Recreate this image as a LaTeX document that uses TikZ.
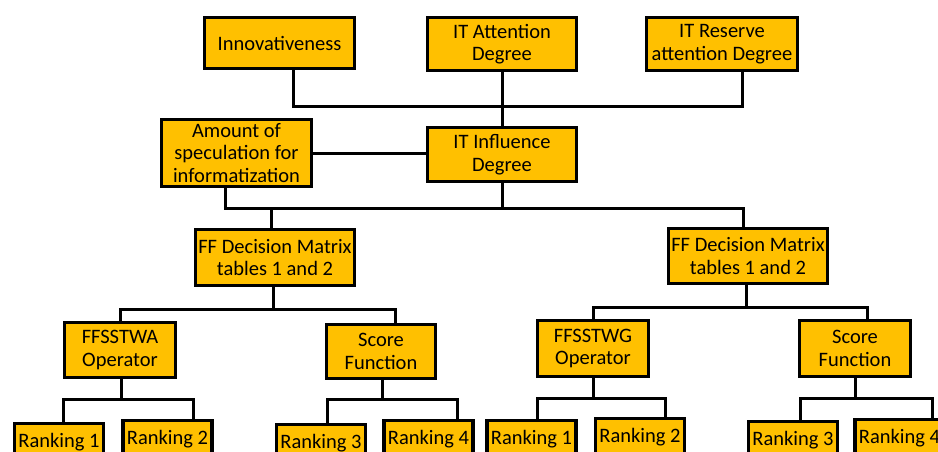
\documentclass[tikz,border=0pt]{standalone}
\usepackage{fontspec}
\setmainfont{Carlito}
\usetikzlibrary{calc}
\definecolor{boxgold}{HTML}{FFC000}

\begin{document}
\begin{tikzpicture}[x=1pt, y=-1pt,
	blk/.style={draw=black, line width=3.3pt, fill=boxgold, align=center, inner sep=0pt,
		font=\fontsize{20.5}{22.5}\selectfont},
	rank/.style={blk, anchor=north, minimum width=89pt, minimum height=38pt},
	wire/.style={line width=3pt}]
			%%%%% START %%%%%
			\useasboundingbox (0, 0) rectangle (938, 452);
			\clip (0, 0) rectangle (938, 452);
			
			% top row
			\node[blk, minimum width=150pt, minimum height=51pt] (inno) at (279.5, 43) {Innovativeness};
			\node[blk, minimum width=149pt, minimum height=53pt] (att) at (502, 44) {IT Attention\\Degree};
			\node[blk, minimum width=151pt, minimum height=53pt] (res) at (722, 44) {IT Reserve\\attention Degree};
			
			\node[blk, minimum width=150pt, minimum height=67pt] (amount) at (236.5, 153) {Amount of\\speculation for\\informatization};
			\node[blk, minimum width=149pt, minimum height=54pt] (infl) at (502, 154.5) {IT Influence\\Degree};
			
			% decision matrices
			\node[blk, minimum width=159pt, minimum height=56pt] (ffL) at (275, 257.5) {FF Decision Matrix\\tables 1 and 2};
			\node[blk, minimum width=159pt, minimum height=55pt] (ffR) at (748, 256) {FF Decision Matrix\\tables 1 and 2};
			
			\node[blk, minimum width=111pt, minimum height=55pt] (opA) at (120, 350) {FFSSTWA\\Operator};
			\node[blk, minimum width=109pt, minimum height=54pt] (scA) at (381, 351.5) {Score\\Function};
			\node[blk, minimum width=111pt, minimum height=56pt] (opG) at (593, 348.5) {FFSSTWG\\Operator};
			\node[blk, minimum width=111pt, minimum height=56pt] (scG) at (855, 348.5) {Score\\Function};
			
			% rankings
			\node[rank] (rA1) at (59, 421.5) {Ranking 1};
			\node[rank] (rA2) at (167.5, 418.5) {Ranking 2};
			\node[rank] (rA3) at (321, 422.5) {Ranking 3};
			\node[rank] (rA4) at (428.5, 418.5) {Ranking 4};
			\node[rank] (rG1) at (531.5, 418.5) {Ranking 1};
			\node[rank] (rG2) at (640, 416.5) {Ranking 2};
			\node[rank] (rG3) at (793, 419.5) {Ranking 3};
			\node[rank] (rG4) at (899.5, 417.5) {Ranking 4};
			
			% connectors
			\coordinate (topbus) at (502, 107);
			\draw[wire] ([xshift=13.5pt]inno.south) |- (topbus) -| ([xshift=20pt]res.south);
			\draw[wire] (att.south) -- (infl.north);
			\draw[wire] (amount.east) -- (amount.east -| infl.west);
			
			\coordinate (midbus) at (502, 208);
			\draw[wire] ([xshift=-11.5pt]amount.south) |- (midbus) -| ([xshift=-5pt]ffR.north);
			\draw[wire] (infl.south) -- (midbus);
			\draw[wire] ([xshift=-4pt]ffL.north) -- ([xshift=-4pt]ffL.north |- midbus);
			
			\coordinate (busL) at (273, 309);
			\draw[wire] (opA.north) |- (busL) -| ([xshift=14pt]scA.north);
			\draw[wire] ([xshift=-2pt]ffL.south) -- ([xshift=-2pt]ffL.south |- busL);
			
			\coordinate (busR) at (746, 307);
			\draw[wire] (opG.north) |- (busR) -| ([xshift=12pt]scG.north);
			\draw[wire] ([xshift=-2pt]ffR.south) -- ([xshift=-2pt]ffR.south |- busR);
			
			\coordinate (busA1) at (121, 399);
			\draw[wire] ([xshift=4pt]rA1.north) |- (busA1) -| ([xshift=25.5pt]rA2.north);
			\draw[wire] ([xshift=1pt]opA.south) -- ([xshift=1pt]opA.south |- busA1);
			
			\coordinate (busA2) at (382, 399);
			\draw[wire] ([xshift=6pt]rA3.north) |- (busA2) -| ([xshift=28.5pt]rA4.north);
			\draw[wire] ([xshift=1pt]scA.south) -- ([xshift=1pt]scA.south |- busA2);
			
			\coordinate (busG1) at (593, 398);
			\draw[wire] ([xshift=5.5pt]rG1.north) |- (busG1) -| ([xshift=25pt]rG2.north);
			\draw[wire] (opG.south) -- (opG.south |- busG1);
			
			\coordinate (busG2) at (855, 398);
			\draw[wire] ([xshift=7pt]rG3.north) |- (busG2) -| ([xshift=32.5pt]rG4.north);
			\draw[wire] (scG.south) -- (scG.south |- busG2);
			%%%%% END %%%%%
\end{tikzpicture}
\end{document}
